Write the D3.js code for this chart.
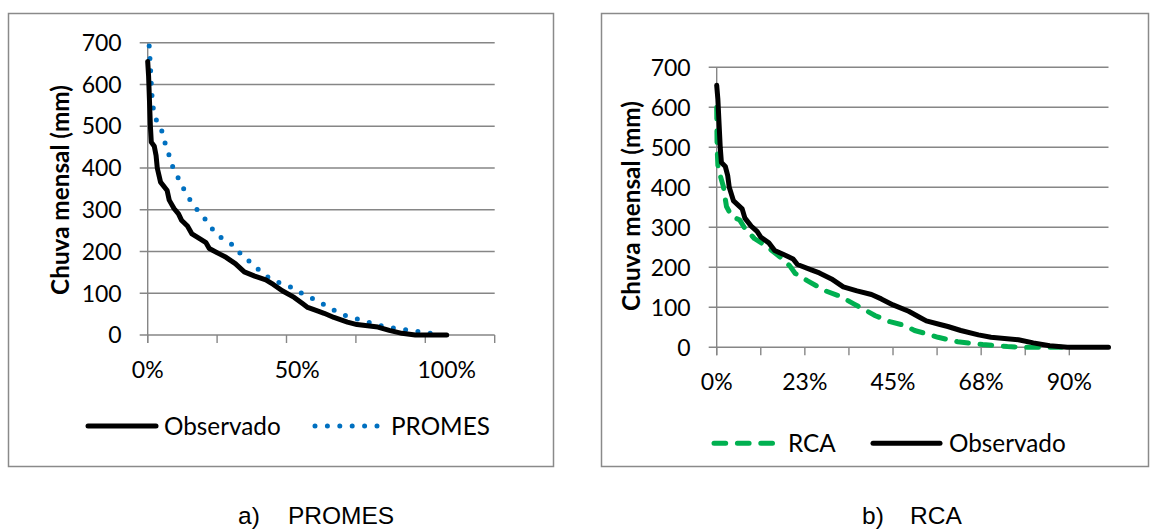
<!DOCTYPE html>
<html><head><meta charset="utf-8">
<script src="https://cdn.jsdelivr.net/npm/d3@7"></script>
<style>body{margin:0;background:#fff} svg{display:block}</style>
</head><body><svg id="c" width="1150" height="532"></svg>
<script>
// ---- data (x = fraction of time exceeded, y = monthly rain in mm) ----
const observadoX = [0,0.003,0.006,0.009,0.012,0.022,0.028,0.032,0.043,0.065,0.072,0.088,0.103,0.113,0.133,0.148,0.175,0.195,0.206,0.243,0.262,0.293,0.323,0.358,0.395,0.42,0.45,0.49,0.52,0.535,0.57,0.59,0.623,0.668,0.70,0.77,0.808,0.85,0.895,1.0];
const observadoY = [655,620,560,500,462,452,430,400,366,346,323,303,290,275,261,242,230,221,207,193,186,171,151,141,132,121,106,90,74,66,57,52,42,31,25,19,11,4,0,0];

const promesX = [0.005,0.0077,0.010,0.012,0.0145,0.019,0.029,0.047,0.058,0.070,0.081,0.098,0.115,0.135,0.156,0.182,0.206,0.229,0.261,0.295,0.317,0.350,0.377,0.408,0.444,0.481,0.515,0.550,0.584,0.618,0.655,0.694,0.732,0.770,0.810,0.851,0.892,0.932,0.973];
const promesY = [692,660,630,601,571,541,515,489,460,434,407,382,357,331,307,287,264,241,226,211,187,172,152,136,124,114,100,88,75,61,48,40,32,24,18,13.6,9.6,4.8,2.4];

const rcaX = [0,0.001,0.003,0.010,0.017,0.022,0.025,0.038,0.059,0.070,0.096,0.128,0.164,0.187,0.200,0.232,0.278,0.314,0.351,0.405,0.442,0.478,0.505,0.524,0.565,0.615,0.679,0.742,0.78,0.88];
const rcaY = [600,500,455,426,402,370,352,328,318,300,272,252,224,203,185,166,141,128,108,79,64,55,42,37,25,14,7,2,0,0];

const yTicks = [0,100,200,300,400,500,600,700];
const promesLabelVals = [0,0.5,1.0];
const promesLabels = ["0%","50%","100%"];
const rcaLabelVals = [0,0.225,0.45,0.675,0.9];
const rcaLabels = ["0%","23%","45%","68%","90%"];

const svg = d3.select("#c");
const GRID = "#868686";
const FONT = "Lato, 'Open Sans', sans-serif";
const CAPFONT = "'Liberation Sans', Arial, sans-serif";

function panel(o){
  const g = svg.append("g");
  g.append("rect").attr("x",o.frame[0]).attr("y",o.frame[1])
    .attr("width",o.frame[2]-o.frame[0]).attr("height",o.frame[3]-o.frame[1])
    .attr("fill","none").attr("stroke","#8a8a8a").attr("stroke-width",1.5);
  const x = d3.scaleLinear().domain([0,o.xMax]).range([o.left,o.right]);
  const y = d3.scaleLinear().domain([0,700]).range([o.bottom,o.top]);
  g.selectAll(".grid").data(yTicks).join("line")
    .attr("x1",o.left-8).attr("x2",o.right)
    .attr("y1",d=>y(d)).attr("y2",d=>y(d))
    .attr("stroke",GRID).attr("stroke-width",1.4);
  g.append("line").attr("x1",o.left).attr("x2",o.left)
    .attr("y1",y(700)).attr("y2",y(0)+8).attr("stroke",GRID).attr("stroke-width",1.4);
  g.selectAll(".xt").data(o.tickVals).join("line")
    .attr("x1",d=>x(d)).attr("x2",d=>x(d))
    .attr("y1",y(0)).attr("y2",y(0)+8).attr("stroke",GRID).attr("stroke-width",1.4);
  g.selectAll(".yl").data(yTicks).join("text")
    .attr("x",o.left-26).attr("y",d=>y(d)).attr("dy","0.36em")
    .attr("text-anchor","end").attr("font-family",FONT).attr("font-size",23)
    .attr("fill","#000").text(d=>d);
  g.selectAll(".xl").data(o.labelVals).join("text")
    .attr("x",d=>x(d)).attr("y",y(0)+43).attr("text-anchor","middle")
    .attr("font-family",FONT).attr("font-size",23).attr("fill","#000")
    .text((d,i)=>o.labels[i]);
  g.append("text").attr("transform",`translate(${o.titleX},${o.titleY}) rotate(-90)`)
    .attr("text-anchor","middle").attr("dy","0.35em")
    .attr("font-family",FONT).attr("font-weight","bold").attr("font-size",24.3)
    .attr("fill","#000").text("Chuva mensal (mm)");
  const line = d3.line().x(d=>x(d[0])).y(d=>y(d[1]));
  o.series.forEach(s=>{
    const pts = s.xs.map((v,i)=>[v,s.ys[i]]);
    g.append("path").attr("d",line(pts)).attr("fill","none")
      .attr("stroke",s.color).attr("stroke-width",5)
      .attr("stroke-linejoin","round").attr("stroke-linecap","round")
      .attr("stroke-dasharray",s.dash||null);
  });
  o.legend.forEach(l=>{
    g.append("line").attr("x1",l.x1).attr("x2",l.x2).attr("y1",l.y).attr("y2",l.y)
      .attr("stroke",l.s.color).attr("stroke-width",5).attr("stroke-linecap","round")
      .attr("stroke-dasharray",l.s.dash||null);
    g.append("text").attr("x",l.tx).attr("y",l.y+8.5).attr("font-family",FONT)
      .attr("font-size",24.3).attr("fill","#000").text(l.s.name);
  });
  g.append("text").attr("x",o.cap[0]).attr("y",524).attr("font-family",CAPFONT)
    .attr("font-size",24.5).attr("fill","#000").text(o.cap[1]);
  g.append("text").attr("x",o.cap[2]).attr("y",524).attr("font-family",CAPFONT)
    .attr("font-size",24.5).attr("fill","#000").text(o.cap[3]);
}

const sObs = {name:"Observado", xs:observadoX, ys:observadoY, color:"#000"};
const sPromes = {name:"PROMES", xs:promesX, ys:promesY, color:"#0070C0", dash:"0,12.4"};
const sRca = {name:"RCA", xs:rcaX, ys:rcaY, color:"#00B050", dash:"11.7,11.7"};

const stepL = 0.2321;
panel({
  frame:[8.5,13.5,553.5,466.5], left:147.7, right:494.7, top:42.7, bottom:335, xMax:5*stepL,
  tickVals:d3.range(6).map(i=>i*stepL), labelVals:promesLabelVals, labels:promesLabels,
  titleX:60, titleY:190,
  series:[sPromes, sObs],
  legend:[{s:sObs,x1:88,x2:156,y:426,tx:164},{s:sPromes,x1:315,x2:378,y:426,tx:391}],
  cap:[238,"a)",288,"PROMES"]
});
panel({
  frame:[601.5,13.5,1148.5,466.5], left:716.7, right:1108.5, top:67.3, bottom:347.3, xMax:1.0,
  tickVals:d3.range(9).map(i=>i*0.1125), labelVals:rcaLabelVals, labels:rcaLabels,
  titleX:631, titleY:206,
  series:[sRca, sObs],
  legend:[{s:sRca,x1:714,x2:774,y:443.3,tx:788},{s:sObs,x1:873,x2:940,y:443.3,tx:949}],
  cap:[862,"b)",910,"RCA"]
});
</script></body></html>
